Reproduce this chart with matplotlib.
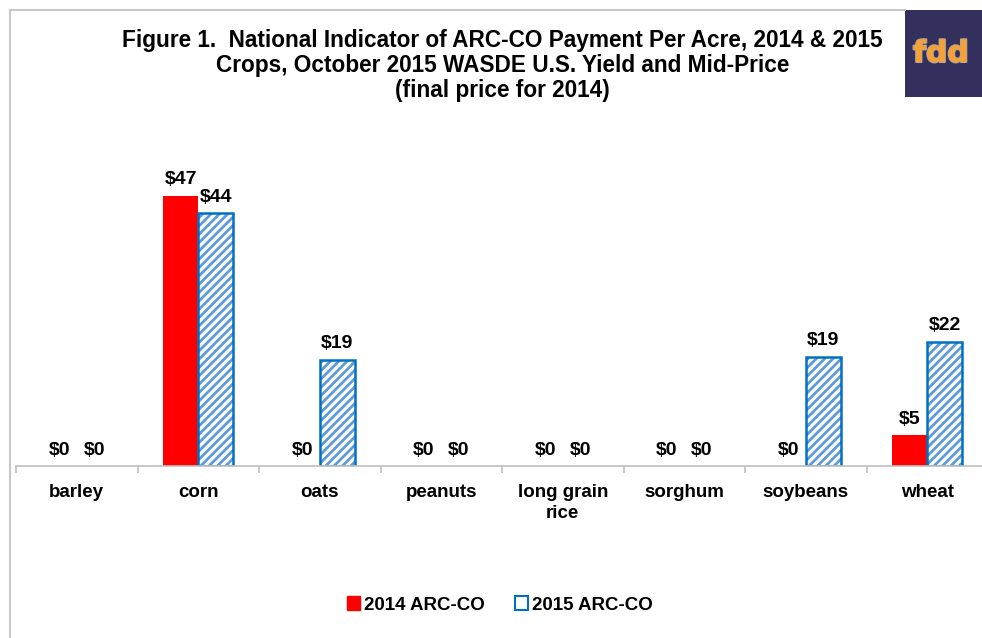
import matplotlib
matplotlib.use("Agg")
import matplotlib.pyplot as plt
import matplotlib.patheffects as pe
from matplotlib.patches import Rectangle, Patch
from matplotlib.lines import Line2D
import numpy as np

# data ($ per acre)
crops = ["barley", "corn", "oats", "peanuts", "long grain\nrice", "sorghum", "soybeans", "wheat"]
arc_2014 = [0, 47.2, 0, 0, 0, 0, 0, 5.4]
arc_2015 = [0, 44.2, 18.6, 0, 0, 0, 19.1, 21.7]

title = ("Figure 1.  National Indicator of ARC-CO Payment Per Acre, 2014 & 2015\n"
         "Crops, October 2015 WASDE U.S. Yield and Mid-Price\n"
         "(final price for 2014)")

RED = "#FF0000"
BLUE = "#0070C0"
HATCH_BLUE = "#5F9BD8"


def main() -> int:
    plt.rcParams["font.family"] = ["Liberation Sans", "DejaVu Sans"]
    plt.rcParams["font.weight"] = "bold"
    plt.rcParams["hatch.linewidth"] = 2.0

    W, H = 982, 638
    fig = plt.figure(figsize=(W / 100, H / 100), dpi=100)

    # axes placed in pixel terms: baseline at y=466, categories 121.5 px wide from x=16
    ax = fig.add_axes([16 / W, (H - 466) / H, 972 / W, 316 / H])
    x = np.arange(len(crops))
    bw = 0.29

    ax.bar(x - bw / 2, arc_2014, bw, color=RED, linewidth=0)
    ax.bar(x + bw / 2, arc_2015, bw, color="white", edgecolor=HATCH_BLUE,
           hatch="////", linewidth=0)
    edges = [BLUE if v > 0 else "none" for v in arc_2015]
    ax.bar(x + bw / 2, arc_2015, bw, color="none", edgecolor=edges, linewidth=1.8)

    for xi, v in zip(x - bw / 2, arc_2014):
        ax.text(xi, v + 1.3, f"${v:.0f}", ha="center", va="bottom", fontsize=14)
    for xi, v in zip(x + bw / 2, arc_2015):
        ax.text(xi, v + 1.3, f"${v:.0f}", ha="center", va="bottom", fontsize=14)

    ax.set_xlim(-0.5, len(crops) - 0.5)
    ax.set_ylim(0, 55.2)
    for s in ["top", "right", "left"]:
        ax.spines[s].set_visible(False)
    ax.spines["bottom"].set_color("#BFBFBF")
    ax.spines["bottom"].set_linewidth(1.2)
    ax.set_yticks([])
    ax.set_xticks(np.arange(len(crops) + 1) - 0.5)
    ax.set_xticklabels([])
    ax.tick_params(axis="x", length=5, color="#BFBFBF", width=1.2)
    ax.set_xticks(x, minor=True)
    ax.set_xticklabels(crops, minor=True, fontsize=13.5, fontweight="bold",
                       linespacing=1.3, va="top")
    ax.tick_params(axis="x", which="minor", length=0, pad=13)

    fig.text(0.512, 1 - 29 / H, title, ha="center", va="top", fontsize=16.3,
             fontweight="bold", linespacing=1.12)

    # frame lines (left and top border)
    fig.add_artist(Line2D([10 / W, 10 / W], [0, 1 - 10 / H], color="#C8C8C8", lw=1.5))
    fig.add_artist(Line2D([10 / W, 905 / W], [1 - 10 / H, 1 - 10 / H], color="#C8C8C8", lw=1.5))

    # fdd logo
    fig.add_artist(Rectangle((905 / W, 1 - 97 / H), 77 / W, 87 / H,
                             transform=fig.transFigure, color="#33305E", lw=0))
    fig.text(913 / W, 1 - 62 / H, "fdd", ha="left", va="baseline", fontsize=21.5,
             fontweight="bold", color="#F7A035", family="DejaVu Sans",
             path_effects=[pe.withStroke(linewidth=1.5, foreground="#B8A890")])

    handles = [Patch(facecolor=RED, edgecolor=RED),
               Patch(facecolor="white", edgecolor=BLUE, linewidth=1.5)]
    fig.legend(handles, ["2014 ARC-CO", "2015 ARC-CO"], loc="center",
               bbox_to_anchor=(0.509, 1 - 605 / H), ncol=2, frameon=False,
               fontsize=13.5, handlelength=0.7, handleheight=0.7,
               handletextpad=0.2, columnspacing=1.6)

    fig.savefig("out.png", dpi=100)
    return 0


if __name__ == "__main__":
    main()
